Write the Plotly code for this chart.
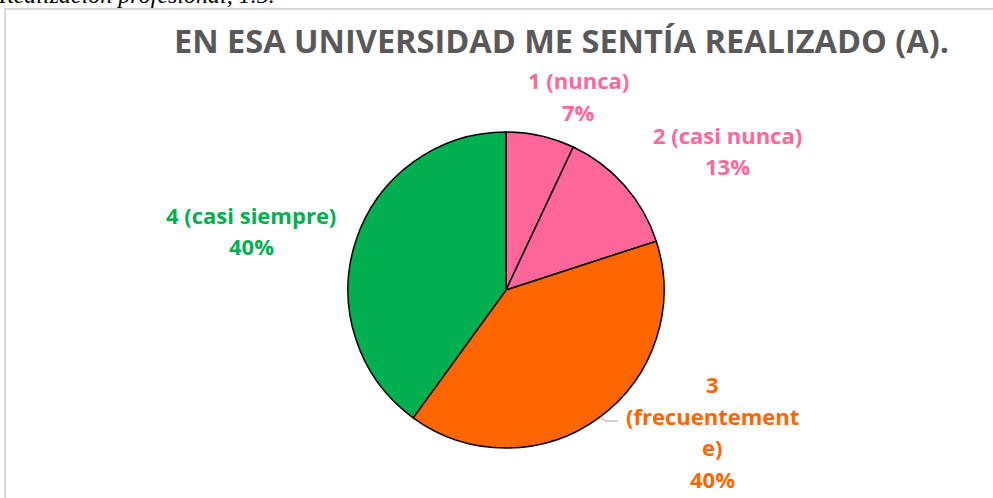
import plotly.graph_objects as go

categories = ["1 (nunca)", "2 (casi nunca)", "3 (frecuentemente)", "4 (casi siempre)"]
values = [7, 13, 40, 40]
colors = ["#FF6699", "#FF6699", "#FF6600", "#00B050"]
label_lines = [["1 (nunca)", "7%"], ["2 (casi nunca)", "13%"],
               ["3", "(frecuentement", "e)", "40%"], ["4 (casi siempre)", "40%"]]
label_pos = [(578, 80), (727, 135), (712, 384), (251, 215)]  # first line center px

W, H = 993, 498
def px(x): return x / W
def py(y): return 1 - y / H

fig = go.Figure(go.Pie(
    labels=categories, values=values, sort=False, direction="clockwise", rotation=0,
    marker=dict(colors=colors, line=dict(color="black", width=1.5)),
    textinfo="none", hoverinfo="label+percent", showlegend=False,
    domain=dict(x=[px(348), px(664)], y=[py(448), py(132)]),
))

ann = []
LH = 31.5
for lines, (cx, cy), col in zip(label_lines, label_pos, colors):
    for i, t in enumerate(lines):
        ann.append(dict(x=px(cx), y=py(cy + i * LH), xref="paper", yref="paper",
                        text=f"<b>{t}</b>", showarrow=False, xanchor="center", yanchor="middle",
                        font=dict(family="Open Sans", size=22, color=col)))
ann.append(dict(x=px(561), y=py(40), xref="paper", yref="paper",
                text="<b>EN ESA UNIVERSIDAD ME SENTÍA REALIZADO (A).</b>", showarrow=False,
                xanchor="center", yanchor="middle",
                font=dict(family="Open Sans", size=32.5, color="#595959")))
ann.append(dict(x=px(-4), y=py(10), xref="paper", yref="paper",
                text="<i>Realización profesional, 1.5.</i>", showarrow=False,
                xanchor="left", yanchor="bottom",
                font=dict(family="Liberation Serif", size=24, color="black")))

shapes = [
    dict(type="rect", xref="paper", yref="paper", x0=px(5), x1=px(1010), y0=py(520), y1=py(9),
         line=dict(color="#D9D9D9", width=2), fillcolor="rgba(0,0,0,0)", layer="below"),
    dict(type="path", xref="paper", yref="paper",
         path=f"M {px(601)} {py(418)} L {px(606)} {py(421)} L {px(618)} {py(421)}",
         line=dict(color="#A6A6A6", width=1)),
]

fig.update_layout(width=W, height=H, margin=dict(l=0, r=0, t=0, b=0),
                  paper_bgcolor="white", plot_bgcolor="white",
                  annotations=ann, shapes=shapes)
fig.write_html("out.html", config={"displayModeBar": False},
               post_script="document.body.style.margin='0';document.body.style.overflow='hidden';")
